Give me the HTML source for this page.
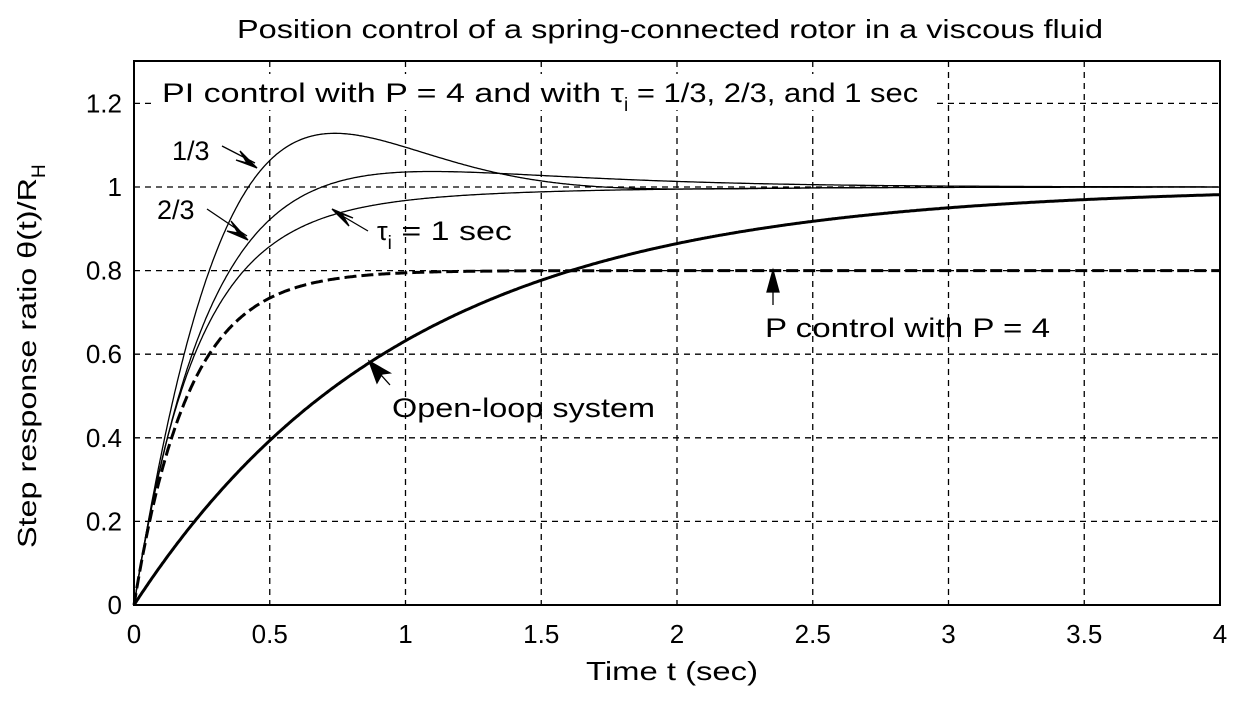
<!DOCTYPE html>
<html><head><meta charset="utf-8"><style>
body{margin:0;background:#fff;}
svg text{font-family:"Liberation Sans",Arial,sans-serif;fill:#000;}
</style></head><body>
<svg id="s" width="1247" height="700" viewBox="0 0 1247 700" xmlns="http://www.w3.org/2000/svg">
<rect width="1247" height="700" fill="#fff"/>
<g id="grid" stroke="#000" stroke-width="1.3" stroke-dasharray="6,5" fill="none"></g>
<g id="curves" fill="none" stroke="#000"></g>
<rect x="134" y="61" width="1086" height="544" fill="none" stroke="#000" stroke-width="2"/>
<g id="ticks" font-size="26"></g>
<text x="237" y="38" font-size="26" textLength="866" lengthAdjust="spacingAndGlyphs">Position control of a spring-connected rotor in a viscous fluid</text>
<text x="586" y="680" font-size="26" textLength="172" lengthAdjust="spacingAndGlyphs">Time t (sec)</text>
<text transform="translate(36,548) rotate(-90)" font-size="26"><tspan textLength="370" lengthAdjust="spacingAndGlyphs">Step response ratio θ(t)/R</tspan><tspan font-size="19" dy="9">H</tspan></text>
<rect x="156" y="74" width="780" height="36" fill="#fff"/>
<text x="162" y="102" font-size="27"><tspan textLength="462" lengthAdjust="spacingAndGlyphs">PI control with P = 4 and with τ</tspan><tspan font-size="19" dy="9">i</tspan><tspan dy="-9" textLength="290" lengthAdjust="spacingAndGlyphs"> = 1/3, 2/3, and 1 sec</tspan></text>
<text x="172" y="160" font-size="27">1/3</text>
<text x="157" y="219" font-size="27">2/3</text>
<text x="377" y="240" font-size="27">τ<tspan font-size="19" dy="9">i</tspan><tspan dy="-9" textLength="120" lengthAdjust="spacingAndGlyphs"> = 1 sec</tspan></text>
<text x="765" y="337" font-size="27" textLength="285" lengthAdjust="spacingAndGlyphs">P control with P = 4</text>
<text x="392" y="417" font-size="27" textLength="263" lengthAdjust="spacingAndGlyphs">Open-loop system</text>
<g stroke="#000" stroke-width="1.3" fill="#000">
<line x1="222" y1="146" x2="255" y2="163"/><polygon points="257,168 240,151 247,163 236,160"/>
<line x1="207" y1="209" x2="247" y2="236"/><polygon points="248,240 231,221 238,233 227,231"/>
<line x1="368" y1="231" x2="334" y2="211"/><polygon points="332,209 349,226 342,214 353,218"/>
<line x1="773" y1="305" x2="773" y2="276"/><polygon points="773,270 767,292 779,292"/>
<line x1="390" y1="385" x2="373" y2="366"/><polygon points="369,361 377,383 382,374 390,373"/>
</g>
</svg>
<script>
var X=t=>134+t*271.5, Y=v=>605-v*418;
var g=document.getElementById('grid'),tk=document.getElementById('ticks'),c=document.getElementById('curves');
var ns='http://www.w3.org/2000/svg';
function el(p,n,a,txt){var e=document.createElementNS(ns,n);for(var k in a)e.setAttribute(k,a[k]);if(txt!=null)e.textContent=txt;p.appendChild(e);return e;}
for(var i=1;i<8;i++){var x=X(i*0.5);el(g,'line',{x1:x,y1:61,x2:x,y2:605});}
for(var j=1;j<=6;j++){var y=Y(j*0.2);el(g,'line',{x1:134,y1:y,x2:1220,y2:y});}
var xl=['0','0.5','1','1.5','2','2.5','3','3.5','4'];
xl.forEach((s,i)=>el(tk,'text',{x:X(i*0.5),y:643,'text-anchor':'middle'},s));
var yl=['0','0.2','0.4','0.6','0.8','1','1.2'];
yl.forEach((s,i)=>el(tk,'text',{x:122,y:Y(i*0.2)+9,'text-anchor':'end'},s));
function sim(a,b,cc,d,T){var x1=0,x2=0,dt=0.0005,pts=[],n=0;for(var t=0;t<=T;t+=dt){if(n%10==0)pts.push(X(t).toFixed(1)+','+Y(d*x1+cc*x2).toFixed(1));var dx2=-b*x1-a*x2+1;x1+=x2*dt;x2+=dx2*dt;n++;}return pts.join(' ');}
function fn(f,T){var p=[];for(var t=0;t<=T;t+=0.005)p.push(X(t).toFixed(1)+','+Y(f(t)).toFixed(1));return p.join(' ');}
el(c,'polyline',{points:sim(5,12,4,12,2.75),'stroke-width':1.3});
el(c,'polyline',{points:sim(5,6,4,6,4),'stroke-width':1.3});
el(c,'polyline',{points:fn(t=>1-0.9*Math.exp(-4.5*t)-0.1*Math.exp(-1.5*t),4),'stroke-width':1.3});
el(c,'polyline',{points:fn(t=>0.8*(1-Math.exp(-5*t)),4),'stroke-width':3,'stroke-dasharray':'12,5'});
el(c,'polyline',{points:fn(t=>1-Math.exp(-t),4),'stroke-width':3});
</script>
</body></html>
